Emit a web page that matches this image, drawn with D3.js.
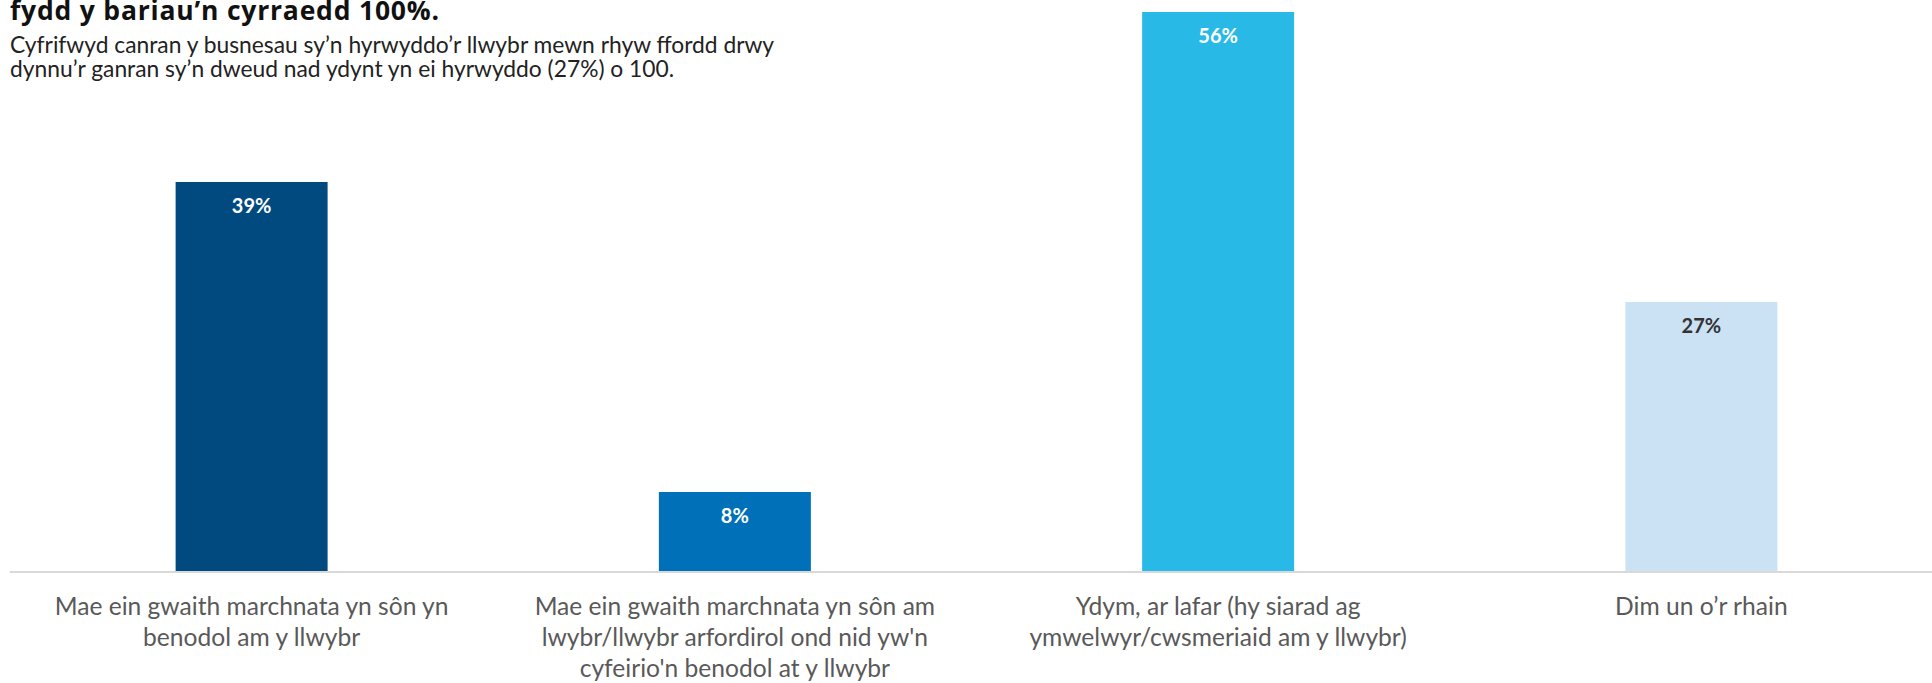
<!DOCTYPE html>
<html>
<head>
<meta charset="utf-8">
<script src="https://cdn.jsdelivr.net/npm/d3@7"></script>
<style>
  html, body { margin: 0; padding: 0; background: #ffffff; }
  svg { display: block; }
</style>
</head>
<body>
<script>
// ---- data ----
const titleLines = ["fydd y bariau’n cyrraedd 100%."];
const subtitleLines = [
  "Cyfrifwyd canran y busnesau sy’n hyrwyddo’r llwybr mewn rhyw ffordd drwy",
  "dynnu’r ganran sy’n dweud nad ydynt yn ei hyrwyddo (27%) o 100."
];
const categories = [
  "Mae ein gwaith marchnata yn sôn yn\nbenodol am y llwybr",
  "Mae ein gwaith marchnata yn sôn am\nlwybr/llwybr arfordirol ond nid yw'n\ncyfeirio'n benodol at y llwybr",
  "Ydym, ar lafar (hy siarad ag\nymwelwyr/cwsmeriaid am y llwybr)",
  "Dim un o’r rhain"
];
const values = [39, 8, 56, 27];
const barColors = ["#004a80", "#0070b8", "#29b9e6", "#cbe1f4"];
const labelColors = ["#ffffff", "#ffffff", "#ffffff", "#333333"];

// ---- layout ----
const W = 1932, H = 683;
const baseY = 572;

const svg = d3.select("body").append("svg")
  .attr("width", W).attr("height", H);

const x = d3.scaleBand()
  .domain(categories)
  .range([10, 1943])
  .paddingInner(0.6855)
  .paddingOuter(0.3427);

const y = d3.scaleLinear()
  .domain([0, 56])
  .range([baseY, 12]);

// title
svg.append("g").selectAll("text").data(titleLines).join("text")
  .attr("x", 10)
  .attr("y", (d, i) => 20 + i * 30)
  .attr("font-family", "'Open Sans', Lato, sans-serif")
  .attr("font-weight", 700)
  .attr("font-size", 26.5)
  .attr("letter-spacing", 0.8)
  .attr("fill", "#111111")
  .text(d => d);

// subtitle
svg.append("g").selectAll("text").data(subtitleLines).join("text")
  .attr("x", 10)
  .attr("y", (d, i) => 53 + i * 24)
  .attr("font-family", "Lato, 'Open Sans', sans-serif")
  .attr("font-size", 22.8)
  .attr("fill", "#222222")
  .text(d => d);

// bars
svg.append("g").selectAll("rect").data(values).join("rect")
  .attr("x", (d, i) => x(categories[i]))
  .attr("y", d => y(d))
  .attr("width", x.bandwidth())
  .attr("height", d => y(0) - y(d))
  .attr("fill", (d, i) => barColors[i]);

// value labels
svg.append("g").selectAll("text").data(values).join("text")
  .attr("x", (d, i) => x(categories[i]) + x.bandwidth() / 2)
  .attr("y", d => y(d) + 31)
  .attr("text-anchor", "middle")
  .attr("font-family", "Lato, 'Open Sans', sans-serif")
  .attr("font-weight", 700)
  .attr("font-size", 20)
  .attr("fill", (d, i) => labelColors[i])
  .text(d => d + "%");

// x axis
const xAxis = d3.axisBottom(x).tickSize(0).tickFormat("");
const gx = svg.append("g")
  .attr("transform", `translate(0,${baseY})`)
  .call(xAxis);
gx.select(".domain")
  .attr("d", `M10,0H${W}`)
  .attr("stroke", "#d9d9d9")
  .attr("stroke-width", 2);

// category labels
const catG = svg.append("g");
categories.forEach(c => {
  const t = catG.append("text")
    .attr("text-anchor", "middle")
    .attr("font-family", "Lato, 'Open Sans', sans-serif")
    .attr("font-size", 24.6)
    .attr("fill", "#595959");
  c.split("\n").forEach((line, j) => {
    t.append("tspan")
      .attr("x", x(c) + x.bandwidth() / 2)
      .attr("y", 615 + j * 31)
      .text(line);
  });
});
</script>
</body>
</html>
